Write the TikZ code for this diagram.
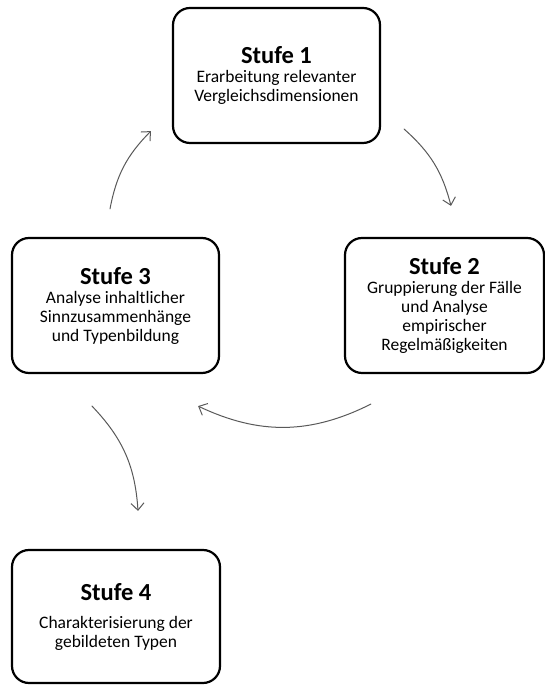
\documentclass[tikz,border=0pt]{standalone}
\usepackage{fontspec}
\setmainfont{Carlito}
\usetikzlibrary{arrows.meta,calc}
\begin{document}
\begin{tikzpicture}[x=1pt, y=1pt, line join=round, line cap=round,
    stufe/.style={draw, line width=2.2pt, rounded corners=17pt, align=center, inner sep=0pt,
      minimum width=207, minimum height=135, font=\fontsize{17.5}{19}\selectfont},
    pfeil/.style={draw=black!65, line width=1pt, -{Straight Barb[length=7pt,width=13pt]}}]
  \useasboundingbox (0,0) rectangle (545,685);

  % Stufen
  \node[stufe] (s1) at (276.5,609.5) {{\fontsize{24.5}{26}\selectfont\bfseries Stufe 1}\\[0pt]
    Erarbeitung relevanter\\Vergleichsdimensionen};
  \node[stufe, minimum width=199] (s2) at (444.5,379.5) {{\fontsize{24.5}{26}\selectfont\bfseries Stufe 2}\\[0pt]
    Gruppierung der Fälle\\und Analyse\\empirischer\\Regelmäßigkeiten};
  \node[stufe] (s3) at (115.5,379.5) {{\fontsize{24.5}{26}\selectfont\bfseries Stufe 3}\\[0pt]
    Analyse inhaltlicher\\Sinnzusammenhänge\\und Typenbildung};
  \node[stufe, minimum width=208, minimum height=133] (s4) at (116,68.5) {{\fontsize{24.5}{26}\selectfont\bfseries Stufe 4}\\[9pt]
    Charakterisierung der\\gebildeten Typen};

  % Pfeilenden
  \coordinate (a1) at ($(s3.north)+(-5.5,28)$);
  \coordinate (b1) at ($(s1.south west)+(-21,13)$);
  \coordinate (a2) at ($(s1.south east)+(23,15)$);
  \coordinate (b2) at ($(s2.north)+(6.5,31)$);
  \coordinate (a3) at ($(s2.south west)+(27,-30)$);
  \coordinate (b3) at ($(s3.south east)+(-22,-32)$);
  \coordinate (a4) at ($(s3.south)+(-23.5,-32)$);
  \coordinate (b4) at ($(s4.north)+(22,38)$);

  % Pfeile
  \draw[pfeil] (a1) to[bend left=17] (b1);
  \draw[pfeil] (a2) to[bend left=17] (b2);
  \draw[pfeil] (a3) to[bend left=26] (b3);
  \draw[pfeil] (a4) to[bend left=20] (b4);
\end{tikzpicture}
\end{document}
